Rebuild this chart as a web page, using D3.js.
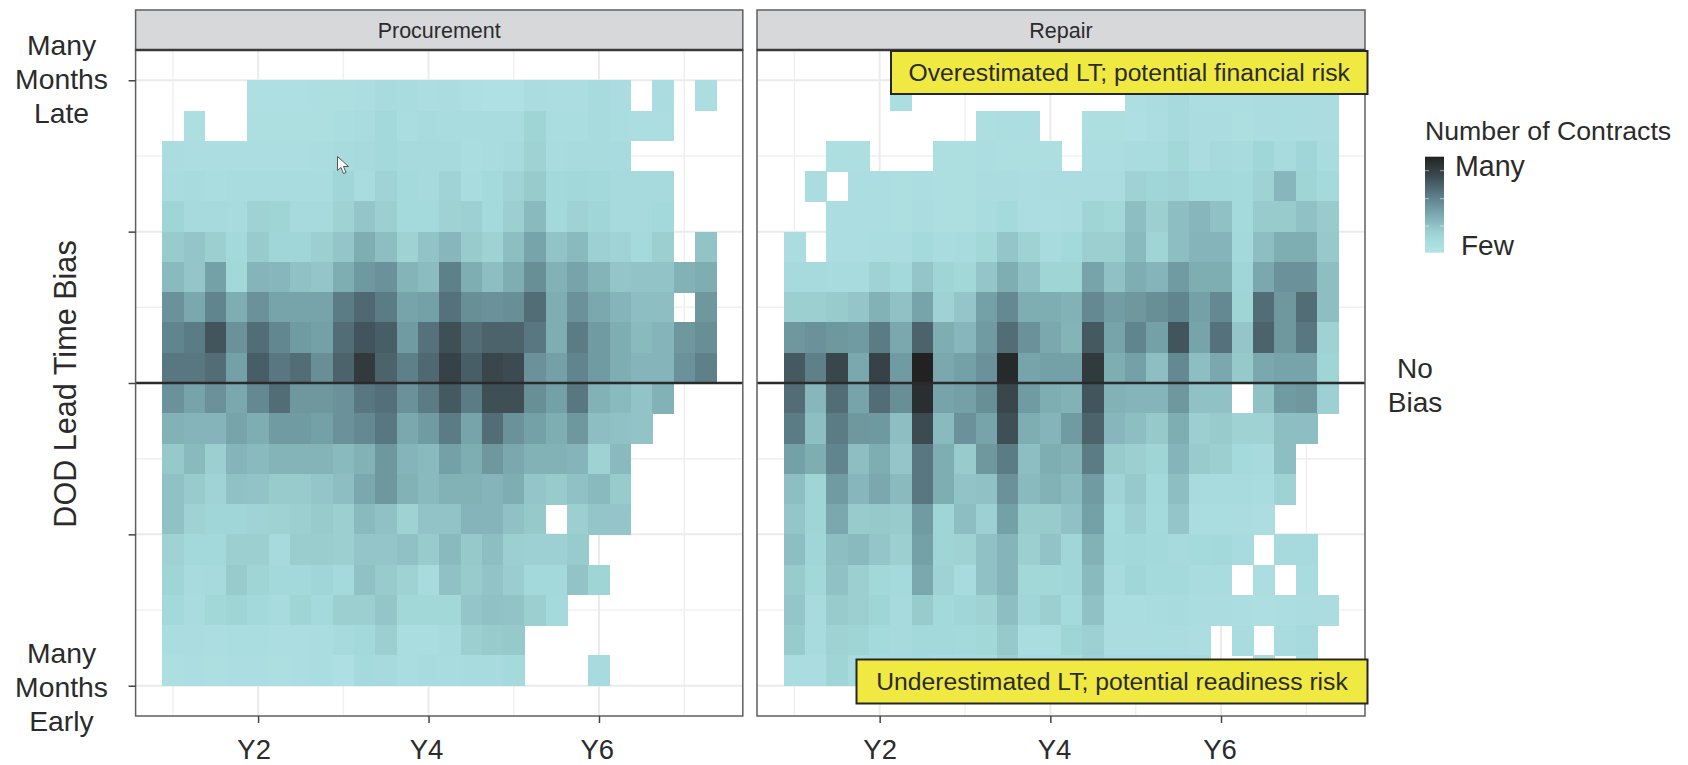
<!DOCTYPE html>
<html>
<head>
<meta charset="utf-8">
<script src="https://d3js.org/d3.v7.min.js"></script>
<style>
  html, body { margin: 0; padding: 0; background: #fff; }
  text { font-family: "Liberation Sans", Arial, sans-serif; fill: #2b2b2b; }
</style>
</head>
<body>
<div id="my_dataviz"></div>
<script>
// one entry per column (month bin) and per row (bias bin, top row first)
var months = [0,1,2,3,4,5,6,7,8,9,10,11,12,13,14,15,16,17,18,19,20,21,22,23,24,25];
var biasBins = [9.5,8.5,7.5,6.5,5.5,4.5,3.5,2.5,1.5,0.5,-0.5,-1.5,-2.5,-3.5,-4.5,-5.5,-6.5,-7.5,-8.5,-9.5];

// contract counts on a 0-100 relative scale, 0 = no tile
var procurement = [
  [0,0,0,0,6,6,6,7,7,8,12,11,8,9,6,5,5,9,8,8,12,9,0,9,0,8],
  [0,7,0,0,7,7,7,7,10,11,15,10,12,11,11,11,11,18,10,10,12,10,8,8,0,0],
  [9,8,8,8,8,8,8,10,12,13,15,13,13,13,10,11,13,20,11,12,12,12,0,0,0,0],
  [11,12,10,11,11,11,11,11,17,11,19,14,13,19,11,14,19,24,15,16,15,13,13,13,0,0],
  [18,13,13,12,20,18,13,13,20,26,22,14,14,20,21,14,22,32,15,20,17,13,13,15,0,0],
  [24,26,22,15,24,17,17,22,26,38,30,20,27,33,24,20,30,42,27,32,21,19,14,22,0,27],
  [32,26,44,16,34,33,28,26,38,47,50,35,31,58,38,30,38,52,36,42,35,26,27,27,36,38],
  [50,40,56,38,50,42,42,42,60,68,60,42,44,64,52,50,52,66,38,50,40,34,30,30,0,48],
  [56,60,76,50,66,55,46,44,66,76,72,46,64,78,66,70,70,62,38,60,46,38,32,34,48,52],
  [62,62,66,44,72,62,66,52,70,88,70,58,68,84,72,82,80,50,44,56,46,38,34,34,50,58],
  [50,42,50,40,54,66,48,48,50,62,65,50,60,74,60,78,78,52,44,62,36,32,27,36,0,0],
  [36,34,34,42,38,46,46,44,50,54,62,40,46,60,42,66,50,44,38,48,30,28,27,0,0,0],
  [25,32,22,34,32,35,35,35,32,36,48,34,32,44,38,48,40,36,36,34,20,32,0,0,0,0],
  [28,24,19,28,27,24,24,26,30,40,48,36,32,36,36,34,38,26,24,28,32,24,0,0,0,0],
  [28,20,17,17,19,20,22,24,22,32,28,20,27,27,34,34,28,25,0,22,26,26,0,0,0,0],
  [20,15,15,22,22,13,23,23,22,26,26,28,24,32,25,30,22,21,21,24,0,0,0,0,0,0],
  [18,12,13,24,18,15,15,17,14,28,24,20,12,28,24,27,23,15,15,27,18,0,0,0,0,0],
  [15,11,16,18,15,12,18,14,22,22,26,16,16,16,26,28,27,22,14,0,0,0,0,0,0,0],
  [10,9,8,10,10,8,8,10,13,15,22,10,10,12,22,24,25,0,0,0,0,0,0,0,0,0],
  [7,8,7,8,8,7,8,10,6,14,13,10,12,11,12,12,14,0,0,0,12,0,0,0,0,0]
];

var repair = [
  [0,0,0,0,0,8,0,0,0,0,0,0,0,0,0,0,7,9,13,8,8,8,9,9,9,9],
  [0,0,0,0,0,0,0,0,0,7,8,8,0,0,7,7,6,8,13,9,9,7,9,10,9,9],
  [0,0,7,7,0,0,0,7,7,8,7,7,7,0,8,8,11,11,16,9,13,12,17,12,17,11],
  [0,9,0,8,8,7,8,7,7,9,9,8,9,9,9,9,20,17,19,15,15,14,20,33,18,14],
  [0,0,8,8,8,7,9,7,7,11,14,8,8,9,18,16,30,22,30,33,28,14,24,24,28,24],
  [9,0,8,8,10,9,14,11,12,16,26,20,12,15,22,22,32,18,30,34,34,15,30,38,38,25],
  [13,13,12,12,20,15,26,18,16,26,38,28,18,18,42,28,38,34,46,38,38,17,40,50,50,30],
  [22,22,24,26,36,28,42,20,26,44,54,38,38,36,54,45,48,52,56,44,54,18,66,48,66,30],
  [48,50,48,46,60,40,70,38,33,46,66,50,40,35,74,42,56,44,76,42,64,26,70,48,62,20],
  [74,58,82,40,84,46,100,40,44,50,96,42,44,44,88,38,44,30,54,30,40,25,40,42,42,18],
  [66,33,66,42,66,52,94,42,44,52,82,46,38,36,76,36,34,34,48,28,28,0,28,46,48,21],
  [60,30,60,48,47,30,80,32,50,42,78,38,34,46,70,33,30,25,38,22,24,20,20,30,30,0],
  [44,38,56,30,38,26,62,38,24,48,60,30,38,36,60,24,22,18,34,24,22,14,13,30,0,0],
  [30,18,46,33,40,32,62,38,27,28,50,32,36,32,46,19,25,15,30,12,12,12,11,20,0,0],
  [26,18,40,24,25,24,46,18,30,21,44,24,24,28,44,14,22,14,26,10,10,9,8,0,0,0],
  [30,17,30,32,26,22,44,18,20,28,34,22,27,17,36,15,16,15,13,14,15,12,0,13,13,0],
  [24,16,28,22,16,14,40,20,12,28,34,16,16,17,32,12,17,14,14,11,11,0,8,0,11,0],
  [26,12,24,22,18,13,24,15,17,20,30,17,22,14,28,10,10,11,12,10,9,8,7,8,9,9],
  [24,12,20,18,14,13,15,15,14,16,25,10,10,18,21,9,9,10,9,8,0,11,0,11,13,0],
  [9,9,18,12,12,12,14,12,12,12,22,12,12,12,20,12,12,12,12,12,0,0,9,0,11,0]
];

var panelNames = ["Procurement", "Repair"];
var xTickMonths = [4, 12, 20];
var xTickLabels = ["Y2", "Y4", "Y6"];
var yTicks = [10, 5, 0, -5, -10];
var yMinor = [7.5, 2.5, -2.5, -7.5];
var xMinor = [0, 8, 16, 24];
var colorStops = [0, 5, 15, 22, 42, 62, 80, 100];
var colorRange = ["#b2e2e5", "#afe0e3", "#a4d9db", "#9bcfd0", "#77a4ab", "#587781", "#3c4a51", "#222222"];

var svg = d3.select("#my_dataviz")
  .append("svg")
  .attr("width", 1688)
  .attr("height", 765)
  .style("display", "block");

var color = d3.scaleLinear().domain(colorStops).range(colorRange);

var top_ = 50, bottom = 716;
var y = d3.scaleLinear().domain([-11, 11]).range([bottom, top_]);

function drawPanel(name, rows, left, right, labelDx, labelDy) {
  var x = d3.scaleLinear().domain([-1.75, 26.75]).range([left, right]);
  var g = svg.append("g");

  // grid
  g.selectAll(".minorH").data(yMinor).enter().append("line")
    .attr("x1", left).attr("x2", right)
    .attr("y1", function (d) { return y(d); }).attr("y2", function (d) { return y(d); })
    .attr("stroke", "#f0f0f0").attr("stroke-width", 1.5);
  g.selectAll(".minorV").data(xMinor).enter().append("line")
    .attr("y1", top_).attr("y2", bottom)
    .attr("x1", function (d) { return x(d); }).attr("x2", function (d) { return x(d); })
    .attr("stroke", "#f0f0f0").attr("stroke-width", 1.5);
  g.selectAll(".majorH").data(yTicks).enter().append("line")
    .attr("x1", left).attr("x2", right)
    .attr("y1", function (d) { return y(d); }).attr("y2", function (d) { return y(d); })
    .attr("stroke", "#ebebeb").attr("stroke-width", 2);
  g.selectAll(".majorV").data(xTickMonths).enter().append("line")
    .attr("y1", top_).attr("y2", bottom)
    .attr("x1", function (d) { return x(d); }).attr("x2", function (d) { return x(d); })
    .attr("stroke", "#ebebeb").attr("stroke-width", 2);

  // tiles
  var cells = [];
  rows.forEach(function (row, i) {
    row.forEach(function (v, j) {
      if (v > 0) cells.push({ month: months[j], bias: biasBins[i], value: v });
    });
  });
  g.selectAll(".tile").data(cells).enter().append("rect")
    .attr("class", "tile")
    .attr("x", function (d) { return x(d.month - 0.5); })
    .attr("y", function (d) { return y(d.bias + 0.5); })
    .attr("width", x(1) - x(0) + 0.5)
    .attr("height", y(0) - y(1) + 0.5)
    .attr("fill", function (d) { return color(d.value); })
    .attr("shape-rendering", "crispEdges");

  // zero line
  g.append("line")
    .attr("x1", left).attr("x2", right)
    .attr("y1", y(0)).attr("y2", y(0))
    .attr("stroke", "#2a2a2a").attr("stroke-width", 2.5);

  // panel border and strip
  g.append("rect")
    .attr("x", left).attr("y", top_)
    .attr("width", right - left).attr("height", bottom - top_)
    .attr("fill", "none").attr("stroke", "#5f5f5f").attr("stroke-width", 1.5);
  g.append("rect")
    .attr("x", left).attr("y", 10)
    .attr("width", right - left).attr("height", top_ - 10)
    .attr("fill", "#d7d8da").attr("stroke", "#5f5f5f").attr("stroke-width", 1.5);
  g.append("line")
    .attr("x1", left).attr("x2", right)
    .attr("y1", top_).attr("y2", top_)
    .attr("stroke", "#3a3a3a").attr("stroke-width", 2.5);
  g.append("text")
    .attr("x", (left + right) / 2).attr("y", 30)
    .attr("dy", "0.35em")
    .attr("text-anchor", "middle")
    .style("font-size", "21.5px")
    .text(name);

  // bottom axis, labels sit a little off their ticks
  var axis = g.append("g")
    .attr("transform", "translate(0," + bottom + ")")
    .call(d3.axisBottom(x)
      .tickValues(xTickMonths)
      .tickSize(7)
      .tickPadding(16)
      .tickFormat(function (d, i) { return xTickLabels[i]; }));
  axis.select(".domain").remove();
  axis.selectAll("line").attr("stroke", "#444").attr("stroke-width", 1.5);
  axis.selectAll("text")
    .attr("dx", function (d, i) { return labelDx[i]; })
    .attr("transform", function (d, i) { return "translate(0," + labelDy[i] + ")"; })
    .style("font-size", "27.5px");
}

drawPanel(panelNames[0], procurement, 135.6, 742.8, [-4.5, -2.5, -2.3], [0, 0, 0]);
drawPanel(panelNames[1], repair, 757, 1365, [0, 3.7, -1.4], [0, 0.6, 0]);

// left axis, ticks only
var yAxis = svg.append("g")
  .attr("transform", "translate(135.6,0)")
  .call(d3.axisLeft(y).tickValues(yTicks).tickSize(7).tickFormat(""));
yAxis.select(".domain").remove();
yAxis.selectAll("line").attr("stroke", "#444").attr("stroke-width", 1.5);

function stacked(lines, cx, cy0, step, size) {
  svg.selectAll(null).data(lines).enter().append("text")
    .attr("x", cx)
    .attr("y", function (d, i) { return cy0 + i * step; })
    .attr("dy", "0.35em")
    .attr("text-anchor", "middle")
    .style("font-size", size + "px")
    .text(function (d) { return d; });
}
stacked(["Many", "Months", "Late"], 61.5, 45, 34, 28.3);
stacked(["Many", "Months", "Early"], 61.5, 653.5, 34, 28.3);
stacked(["No", "Bias"], 1415, 368, 34, 28);

svg.append("text")
  .attr("transform", "translate(65,384) rotate(-90)")
  .attr("dy", "0.35em")
  .attr("text-anchor", "middle")
  .style("font-size", "30.6px")
  .text("DOD Lead Time Bias");

// annotation boxes
function note(text, x0, x1, y0, y1) {
  svg.append("rect")
    .attr("x", x0).attr("y", y0)
    .attr("width", x1 - x0).attr("height", y1 - y0)
    .attr("fill", "#efe942").attr("stroke", "#262626").attr("stroke-width", 2);
  svg.append("text")
    .attr("x", (x0 + x1) / 2).attr("y", (y0 + y1) / 2)
    .attr("dy", "0.35em")
    .attr("text-anchor", "middle")
    .style("font-size", "24.7px")
    .text(text);
}
note("Overestimated LT; potential financial risk", 891, 1367.5, 51, 94);
note("Underestimated LT; potential readiness risk", 856.5, 1367.5, 659.5, 703.5);

// legend
var defs = svg.append("defs");
var grad = defs.append("linearGradient")
  .attr("id", "legendGrad")
  .attr("x1", 0).attr("x2", 0).attr("y1", 1).attr("y2", 0);
colorStops.forEach(function (d) {
  grad.append("stop").attr("offset", (d / 100)).attr("stop-color", color(d));
});
var legendX = 1425, legendW = 19, legendTop = 156.7, legendBottom = 252.7;
svg.append("rect")
  .attr("x", legendX).attr("y", legendTop)
  .attr("width", legendW).attr("height", legendBottom - legendTop)
  .attr("fill", "url(#legendGrad)");
svg.selectAll(".legendTick").data([170.7, 198.7, 226]).enter().append("g")
  .each(function (d) {
    d3.select(this).append("line")
      .attr("x1", legendX).attr("x2", legendX + 4).attr("y1", d).attr("y2", d)
      .attr("stroke", "#fff").attr("stroke-opacity", 0.5);
    d3.select(this).append("line")
      .attr("x1", legendX + legendW - 4).attr("x2", legendX + legendW).attr("y1", d).attr("y2", d)
      .attr("stroke", "#fff").attr("stroke-opacity", 0.5);
  });
svg.append("text")
  .attr("x", legendX).attr("y", 131).attr("dy", "0.35em")
  .style("font-size", "26.7px").text("Number of Contracts");
svg.append("text")
  .attr("x", 1455).attr("y", 166).attr("dy", "0.35em")
  .style("font-size", "28.6px").text("Many");
svg.append("text")
  .attr("x", 1461).attr("y", 245).attr("dy", "0.35em")
  .style("font-size", "28px").text("Few");

// stray mouse pointer left in the screenshot
svg.append("path")
  .attr("transform", "translate(337.5,156.5)")
  .attr("d", "M0,0 L0,14 L3.5,11 L6,17 L8.5,16 L6,10 L11,10 Z")
  .attr("fill", "#fff").attr("stroke", "#555").attr("stroke-width", 1);
</script>
</body>
</html>
